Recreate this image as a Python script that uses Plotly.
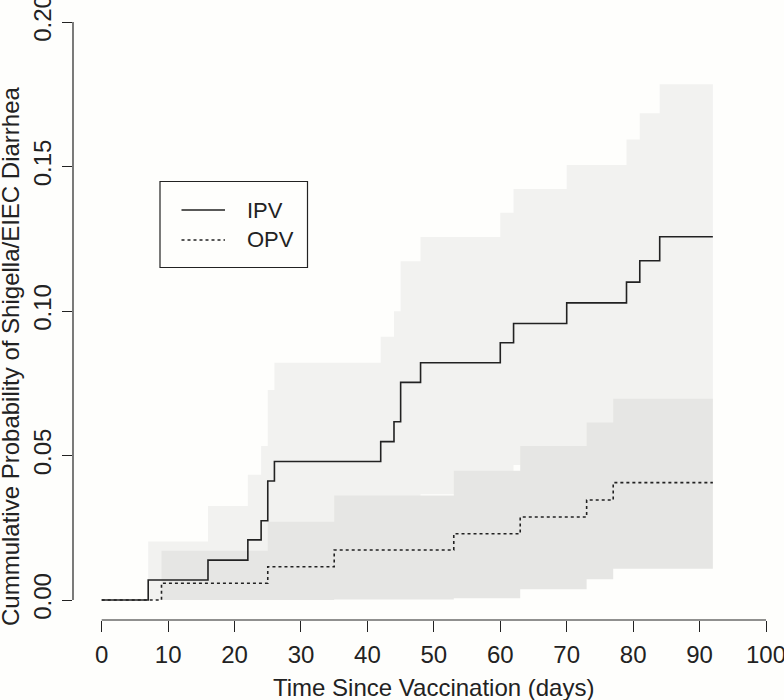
import plotly.graph_objects as go

# ---- data ----
ipv_t = [0, 7, 16, 22, 24, 25, 26, 42, 44, 45, 48, 60, 62, 70, 79, 81, 84, 92]
ipv_est = [0.0, 0.0069, 0.0138, 0.0208, 0.0274, 0.0412, 0.0479, 0.0548, 0.0617, 0.0753,
           0.0821, 0.0890, 0.0957, 0.1028, 0.1100, 0.1174, 0.1257, 0.1257]
ipv_upper = [0.0, 0.0202, 0.0325, 0.0433, 0.0533, 0.0727, 0.0821, 0.0911, 0.0999, 0.1172,
             0.1256, 0.1340, 0.1422, 0.1505, 0.1593, 0.1684, 0.1785, 0.1785]
ipv_lower = [0.0, 0.0, 0.0015, 0.0045, 0.0075, 0.0140, 0.0180, 0.0220, 0.0260, 0.0340,
             0.0366, 0.0420, 0.0467, 0.0520, 0.0570, 0.0620, 0.0685, 0.0685]

opv_t = [0, 9, 25, 35, 53, 63, 73, 77, 92]
opv_est = [0.0, 0.0058, 0.0115, 0.0173, 0.0229, 0.0287, 0.0346, 0.0406, 0.0406]
opv_upper = [0.0, 0.0170, 0.0271, 0.0362, 0.0447, 0.0533, 0.0614, 0.0696, 0.0696]
opv_lower = [0.0, 0.0, 0.0, 0.0002, 0.0006, 0.0037, 0.0072, 0.0108, 0.0108]

x_ticks = [0, 10, 20, 30, 40, 50, 60, 70, 80, 90, 100]
y_ticks = [0.00, 0.05, 0.10, 0.15, 0.20]
y_tick_labels = ["0.00", "0.05", "0.10", "0.15", "0.20"]

x_title = "Time Since Vaccination (days)"
y_title = "Cummulative Probability of Shigella/EIEC Diarrhea"
series_names = ["IPV", "OPV"]

# ---- styling ----
BG = "#fefefc"
LIGHT = "#f2f2f0"
DARK = "#e6e6e4"
INK = "#222222"
FONT = "Liberation Sans, Arial, Helvetica, sans-serif"

W, H = 784, 700
ML, MR, MT, MB = 73, 10, 10, 80        # plot area: x 73..774, y 10..620
plot_w = W - ML - MR
plot_h = H - MT - MB
x_px0, x_scale = 101.7, 6.643          # pixel of x=0, px per day
y_px0, y_scale = 600.0, 2890.0         # pixel of y=0, px per unit
x_range = [(ML - x_px0) / x_scale, (ML - x_px0) / x_scale + plot_w / x_scale]
y_range = [(y_px0 - (H - MB)) / y_scale, (y_px0 - (H - MB)) / y_scale + plot_h / y_scale]


def px_x(p):  # pixel -> paper fraction
    return (p - ML) / plot_w


def px_y(p):
    return (H - MB - p) / plot_h


fig = go.Figure()

# IPV confidence band
fig.add_trace(go.Scatter(x=ipv_t, y=ipv_lower, mode="lines", line=dict(width=0, shape="hv"),
                         showlegend=False, hoverinfo="skip"))
fig.add_trace(go.Scatter(x=ipv_t, y=ipv_upper, mode="lines", line=dict(width=0, shape="hv"),
                         fill="tonexty", fillcolor=LIGHT, showlegend=False, hoverinfo="skip"))
# OPV confidence band
fig.add_trace(go.Scatter(x=opv_t, y=opv_lower, mode="lines", line=dict(width=0, shape="hv"),
                         showlegend=False, hoverinfo="skip"))
fig.add_trace(go.Scatter(x=opv_t, y=opv_upper, mode="lines", line=dict(width=0, shape="hv"),
                         fill="tonexty", fillcolor=DARK, showlegend=False, hoverinfo="skip"))
# estimates
IPV_LINE = dict(color=INK, width=1.6, shape="hv")
OPV_LINE = dict(color=INK, width=1.6, shape="hv", dash="3px,3px")
fig.add_trace(go.Scatter(x=ipv_t, y=ipv_est, mode="lines", name=series_names[0],
                         line=IPV_LINE, showlegend=False))
fig.add_trace(go.Scatter(x=opv_t, y=opv_est, mode="lines", name=series_names[1],
                         line=OPV_LINE, showlegend=False))

# detached R-style axis lines
fig.add_shape(type="line", xref="x", yref="paper", x0=x_ticks[0], x1=x_ticks[-1], y0=0, y1=0,
              line=dict(color=INK, width=1.2))
fig.add_shape(type="line", xref="paper", yref="y", x0=0, x1=0, y0=y_ticks[0], y1=y_ticks[-1],
              line=dict(color=INK, width=1.2))

# legend key (R-style boxed legend)
fig.add_shape(type="rect", xref="paper", yref="paper", x0=px_x(160), x1=px_x(307.5),
              y0=px_y(267.5), y1=px_y(181.5), line=dict(color=INK, width=1.2), fillcolor=BG)
for name, ly, style in [(series_names[0], 210, IPV_LINE), (series_names[1], 240, OPV_LINE)]:
    fig.add_shape(type="line", xref="paper", yref="paper", x0=px_x(181.5), x1=px_x(225),
                  y0=px_y(ly), y1=px_y(ly),
                  line=dict(color=INK, width=1.4, dash=style.get("dash", "solid")))
    fig.add_annotation(text=name, xref="paper", yref="paper", x=px_x(245), y=px_y(ly),
                       xanchor="left", yanchor="middle", showarrow=False,
                       font=dict(size=22, color=INK, family=FONT))

fig.add_annotation(text=x_title, xref="x", yref="paper", x=50, y=px_y(687),
                   xanchor="center", yanchor="middle",
                   showarrow=False, font=dict(size=24, color=INK, family=FONT))
fig.add_annotation(text=y_title, xref="paper", yref="paper", x=px_x(10), y=px_y(356),
                   xanchor="center", yanchor="middle", textangle=-90,
                   showarrow=False, font=dict(size=24, color=INK, family=FONT))

fig.update_layout(
    width=W, height=H,
    margin=dict(l=ML, r=MR, t=MT, b=MB, autoexpand=False),
    paper_bgcolor=BG, plot_bgcolor=BG,
    font=dict(family=FONT, color=INK, size=24),
    showlegend=False,
    xaxis=dict(range=x_range, tickvals=x_ticks, ticks="outside", ticklen=11, tickwidth=1.2,
               tickcolor=INK, showgrid=False, zeroline=False, showline=False, automargin=False,
               tickfont=dict(size=24, color=INK), ticklabelstandoff=2,
               ticklabeloverflow="allow"),
    yaxis=dict(range=y_range, tickvals=y_ticks, ticktext=y_tick_labels, ticks="outside",
               ticklen=10, tickwidth=1.2, tickcolor=INK, showgrid=False, zeroline=False,
               showline=False, automargin=False, tickangle=-90,
               tickfont=dict(size=24, color=INK), ticklabelstandoff=1,
               ticklabeloverflow="allow"),
)

# remove the browser's default 8px body margin so the 784x700 figure fills the window
fig.write_html("out.html", config={"displayModeBar": False},
               post_script="document.body.style.margin='0px';")
